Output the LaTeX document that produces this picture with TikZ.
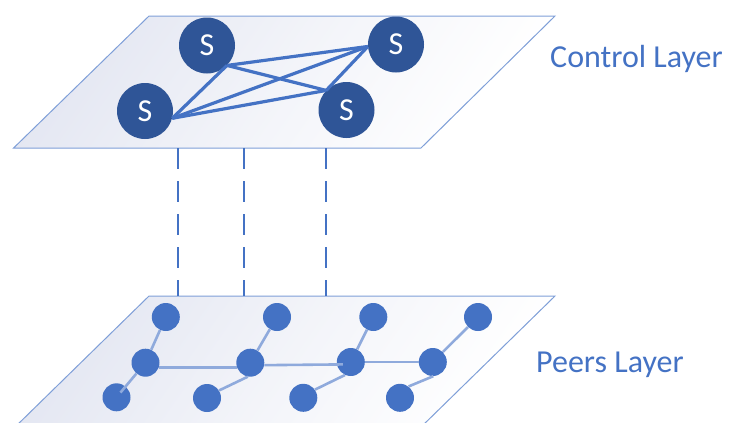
\documentclass[tikz,border=0pt]{standalone}
\usepackage{fontspec}
\setmainfont{Carlito}
\definecolor{sdark}{HTML}{2F5597}
\definecolor{oblue}{HTML}{4472C4}
\definecolor{ledge}{HTML}{8FAADC}
\definecolor{pstroke}{HTML}{7F9FD8}
\definecolor{planeA}{HTML}{E4E7F2}
\tikzset{
  plane/.style={draw=pstroke, line width=1pt, top color=planeA, bottom color=white, middle color=white!55!planeA, shading angle=55},
  snode/.style={circle, fill=sdark, text=white, minimum size=56pt, inner sep=0pt, font=\fontsize{32}{32}\selectfont},
  pnode/.style={circle, fill=oblue, minimum size=28pt, inner sep=0pt},
  sedge/.style={draw=oblue, line width=3.2pt},
  pedge/.style={draw=ledge, line width=2.6pt},
  vdash/.style={draw=oblue, line width=2.2pt, dash pattern=on 21pt off 12pt},
  layerlabel/.style={text=oblue, anchor=base west, inner sep=0pt, font=\fontsize{32}{32}\selectfont}
}
\begin{document}
\begin{tikzpicture}[x=1pt,y=-1pt]
\useasboundingbox (0,0) rectangle (731,423);
\begin{scope}
\clip (0,0) rectangle (731,423);
% planes
\path[plane] (149,16) -- (555,16) -- (421,148) -- (13.6,148) -- cycle;
\path[plane] (149,296) -- (555,296) -- (418,430) -- (12,430) -- cycle;
\end{scope}
% dashed connectors between layers
\coordinate (d1t) at (178,148); \coordinate (d1b) at (178,296);
\coordinate (d2t) at (244,148); \coordinate (d2b) at (244,296);
\coordinate (d3t) at (326,148); \coordinate (d3b) at (326,296);
\draw[vdash] (d1t) -- (d1b);
\draw[vdash] (d2t) -- (d2b);
\draw[vdash] (d3t) -- (d3b);
% control layer nodes
\node[snode] (s1) at (207,45.5) {S};
\node[snode] (s2) at (396,44.5) {S};
\node[snode] (s3) at (145,111) {S};
\node[snode] (s4) at (346.5,110) {S};
\draw[sedge] (s3.-15) -- (s1.-45);
\draw[sedge] (s3.-15) -- (s2.184);
\draw[sedge] (s3.-15) -- (s4.136);
\draw[sedge] (s1.-45) -- (s2.184);
\draw[sedge] (s1.-45) -- (s4.136);
\draw[sedge] (s4.136) -- (s2.184);
% peers layer nodes
\node[pnode] (t1) at (165.8,317) {};
\node[pnode] (t2) at (277,317) {};
\node[pnode] (t3) at (373.3,317) {};
\node[pnode] (t4) at (478,317) {};
\node[pnode] (m1) at (145.5,362.7) {};
\node[pnode] (m2) at (250.3,362.7) {};
\node[pnode] (m3) at (350.8,362) {};
\node[pnode] (m4) at (432.8,362) {};
\node[pnode] (b1) at (116.5,397.3) {};
\node[pnode] (b2) at (207,398) {};
\node[pnode] (b3) at (303.3,397.8) {};
\node[pnode] (b4) at (400,397.8) {};
\draw[pedge] (t1) -- (m1);
\draw[pedge, shorten >=-8pt] (m1) -- (b1);
\draw[pedge] (m1.-20) -- (m2.200);
\draw[pedge] (t2) -- (m2);
\draw[pedge] (b2.32) -- (m2.-100);
\draw[pedge, shorten >=-6pt] (m2.-10) -- (m3.190);
\draw[pedge] (t3) -- (m3);
\draw[pedge] (b3.35) -- (m3.-114);
\draw[pedge] (m3) -- (m4);
\draw[pedge] (t4) -- (m4);
\draw[pedge] (b4.53) -- (m4.-88);
% labels
\node[layerlabel] (cl) at (550,67.3) {Control Layer};
\node[layerlabel] (pl) at (536,372.7) {Peers Layer};
\end{tikzpicture}
\end{document}
